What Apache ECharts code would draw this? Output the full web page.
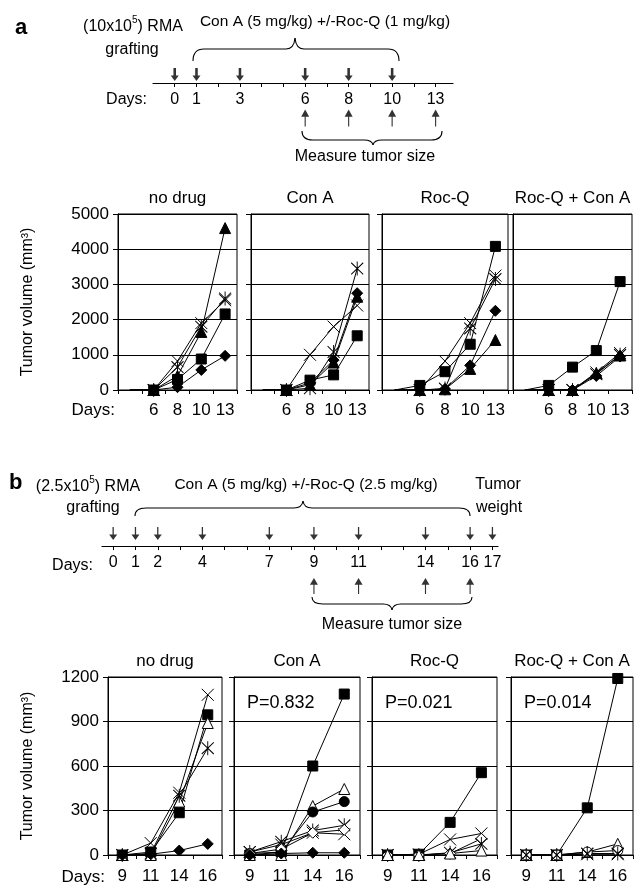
<!DOCTYPE html>
<html>
<head>
<meta charset="utf-8">
<script src="https://cdn.jsdelivr.net/npm/echarts@6/dist/echarts.min.js"></script>
<style>
  html, body { margin: 0; padding: 0; background: #fff; }
  #chart { width: 635px; height: 887px; }
</style>
</head>
<body>
<div id="chart"></div>
<script>
// ---------- data: panel a (first slot is the unlabeled start at 0) ----------
const aDays = ['', '6', '8', '10', '13'];
const aNoTri = [0, 0, 400, 1650, 4600];
const aNoX = [0, 0, 820, 1900, 2550];
const aNoAst = [0, 0, 650, 1800, 2600];
const aNoSq = [0, 0, 300, 880, 2160];
const aNoDia = [0, 0, 80, 570, 970];

const aConX = [0, 0, 1000, 1800, 2400];
const aConAst = [0, 0, 50, 1080, 3450];
const aConDia = [0, 0, 200, 850, 2750];
const aConTri = [0, 0, 150, 780, 2650];
const aConSq = [0, 0, 280, 430, 1540];

const aRocSq = [0, 130, 520, 1300, 4080];
const aRocX = [0, 0, 820, 1900, 3250];
const aRocAst = [0, 0, 40, 1750, 3150];
const aRocDia = [0, 0, 30, 700, 2250];
const aRocTri = [0, 0, 20, 600, 1420];

const aBothSq = [0, 130, 650, 1120, 3080];
const aBothX = [0, 0, 0, 500, 1050];
const aBothAst = [0, 0, 0, 450, 1000];
const aBothDia = [0, 0, 0, 400, 950];
const aBothTri = [0, 0, 0, 480, 980];

// ---------- data: panel b ----------
const bDays = ['9', '11', '14', '16'];
const bNoX = [0, 80, 420, 1080];
const bNoSq = [0, 20, 285, 945];
const bNoTriO = [0, 0, 360, 890];
const bNoAst = [0, 10, 400, 720];
const bNoDia = [0, 5, 30, 75];

const bConSq = [0, 20, 600, 1085];
const bConTriO = [0, 0, 330, 445];
const bConCir = [10, 20, 290, 360];
const bConAst = [20, 90, 165, 200];
const bConX = [20, 70, 150, 140];
const bConDiaO = [10, 40, 150, 170];
const bConDia = [0, 10, 15, 15];

const bRocSq = [0, 5, 220, 555];
const bRocX = [0, 5, 105, 145];
const bRocDiaO = [0, 0, 10, 110];
const bRocAst = [0, 0, 15, 75];
const bRocTriO = [0, 0, 10, 30];

const bBothSq = [0, 0, 318, 1190];
const bBothTriO = [0, 0, 20, 75];
const bBothCirO = [0, 0, 20, 30];
const bBothAst = [0, 0, 10, 10];
const bBothX = [0, 0, 5, 5];

const panelTitles = ['no drug', 'Con A', 'Roc-Q', 'Roc-Q + Con A'];
const pLabels = ['', 'P=0.832', 'P=0.021', 'P=0.014'];

// ---------- timelines (slot index -> label) ----------
const aSlotLabels = ['0', '1', '', '3', '', '', '6', '', '8', '', '10', '', '13'];
const aDoseSlots = [0, 1, 3, 6, 8, 10];
const aMeasureSlots = [6, 8, 10, 12];
const bSlotLabels = ['0', '1', '2', '', '4', '', '', '7', '', '9', '', '11', '', '', '14', '', '16', '17'];
const bDoseSlots = [0, 1, 2, 4, 7, 9, 11, 14, 16, 17];
const bMeasureSlots = [9, 11, 14, 16];

// ---------- markers ----------
const MK = {
  sq:   { symbol: 'rect', size: 10, fill: '#000' },
  tri:  { symbol: 'triangle', size: 11, fill: '#000' },
  dia:  { symbol: 'diamond', size: 11, fill: '#000' },
  cir:  { symbol: 'circle', size: 10, fill: '#000' },
  triO: { symbol: 'triangle', size: 11, fill: '#fff' },
  cirO: { symbol: 'circle', size: 10, fill: '#fff' },
  diaO: { symbol: 'diamond', size: 11, fill: '#fff' },
  x:    { symbol: 'path://M0,0L10,10M10,0L0,10', size: 12, fill: 'transparent' },
  ast:  { symbol: 'path://M0,1L10,11M10,1L0,11M5,0L5,12', size: [12, 14], fill: 'transparent' }
};

const panelsA = [
  [[aNoTri, 'tri'], [aNoX, 'x'], [aNoAst, 'ast'], [aNoSq, 'sq'], [aNoDia, 'dia']],
  [[aConX, 'x'], [aConAst, 'ast'], [aConDia, 'dia'], [aConTri, 'tri'], [aConSq, 'sq']],
  [[aRocSq, 'sq'], [aRocX, 'x'], [aRocAst, 'ast'], [aRocDia, 'dia'], [aRocTri, 'tri']],
  [[aBothSq, 'sq'], [aBothX, 'x'], [aBothAst, 'ast'], [aBothDia, 'dia'], [aBothTri, 'tri']]
];
const panelsB = [
  [[bNoX, 'x'], [bNoSq, 'sq'], [bNoTriO, 'triO'], [bNoAst, 'ast'], [bNoDia, 'dia']],
  [[bConSq, 'sq'], [bConTriO, 'triO'], [bConCir, 'cir'], [bConAst, 'ast'], [bConX, 'x'], [bConDiaO, 'diaO'], [bConDia, 'dia']],
  [[bRocSq, 'sq'], [bRocX, 'x'], [bRocDiaO, 'diaO'], [bRocAst, 'ast'], [bRocTriO, 'triO']],
  [[bBothSq, 'sq'], [bBothTriO, 'triO'], [bBothCirO, 'cirO'], [bBothAst, 'ast'], [bBothX, 'x']]
];

// ---------- layout ----------
const FONT = 'Liberation Sans, Arial, sans-serif';
const rowA = { top: 214, height: 176, boxes: [[118, 119], [251, 118], [382, 126], [513, 119]] };
const rowB = { top: 677, height: 178, boxes: [[108, 114], [234, 126], [372, 125], [511, 122]] };

const grid = [], xAxis = [], yAxis = [], series = [], graphic = [];

function addRow(row, cats, max, interval, panels, hideLead, labelMargin, nameGap) {
  row.boxes.forEach(function (b, i) {
    const idx = grid.length;
    grid.push({ left: b[0], width: b[1], top: row.top, height: row.height,
      show: true, borderColor: '#000', borderWidth: 1, backgroundColor: 'transparent' });
    xAxis.push({ type: 'category', gridIndex: idx, data: cats, boundaryGap: true,
      axisLine: { lineStyle: { color: '#000', width: 1 } },
      axisTick: { show: true, length: 4, lineStyle: { color: '#000' } },
      axisLabel: { interval: 0, color: '#000', fontSize: 17, fontFamily: FONT, margin: labelMargin } });
    yAxis.push({ type: 'value', gridIndex: idx, min: 0, max: max, interval: interval,
      axisLine: { show: true, lineStyle: { color: '#000', width: 1 } },
      axisTick: { show: true, length: 5, lineStyle: { color: '#000' } },
      splitLine: { show: true, lineStyle: { color: '#000', width: 1 } },
      axisLabel: { show: i === 0, color: '#000', fontSize: 17, fontFamily: FONT, margin: 9,
        formatter: function (v) { return String(v); } },
      name: i === 0 ? 'Tumor volume (mm³)' : '', nameLocation: 'middle', nameGap: nameGap,
      nameTextStyle: { color: '#000', fontSize: 16, fontFamily: FONT } });
    panels[i].forEach(function (s) {
      const m = MK[s[1]];
      const data = s[0].map(function (v, k) {
        return (hideLead && k === 0) ? { value: v, symbol: 'none' } : v;
      });
      series.push({ type: 'line', xAxisIndex: idx, yAxisIndex: idx, data: data,
        symbol: m.symbol, symbolSize: m.size, showSymbol: true, showAllSymbol: true,
        lineStyle: { color: '#000', width: 1 },
        itemStyle: { color: m.fill, borderColor: '#000', borderWidth: 1 },
        emphasis: { disabled: true }, clip: false });
    });
    graphic.push({ type: 'text', style: { text: panelTitles[i], x: b[0] + b[1] / 2, y: row.top - 16,
      textAlign: 'center', textVerticalAlign: 'middle', align: 'center', verticalAlign: 'middle',
      font: '17px ' + FONT, fill: '#000' } });
  });
}

addRow(rowA, aDays, 5000, 1000, panelsA, true, 12, 82);
addRow(rowB, bDays, 1200, 300, panelsB, false, 13, 72);

// P values in row b
rowB.boxes.forEach(function (b, i) {
  if (!pLabels[i]) return;
  graphic.push({ type: 'text', style: { text: pLabels[i], x: b[0] + 13, y: 703,
    textAlign: 'left', textVerticalAlign: 'middle', align: 'left', verticalAlign: 'middle',
    font: '18px ' + FONT, fill: '#000' } });
});

// timelines as axes
function addTimeline(left, width, axisY, min, max, labels, dose, measure, doseY, measY, doseSize, measSize, shaft) {
  const idx = grid.length;
  grid.push({ left: left, width: width, top: axisY - 20, height: 20, show: false });
  const ticks = labels.map(function (l, k) { return k; });
  const labelSlots = ticks.filter(function (k) { return labels[k] !== ''; });
  xAxis.push({ type: 'value', gridIndex: idx, min: min, max: max,
    axisLine: { show: true, lineStyle: { color: '#000', width: 1.2 } },
    axisTick: { show: true, length: 4, customValues: ticks, lineStyle: { color: '#000' } },
    axisLabel: { customValues: labelSlots, color: '#000', fontSize: 16, fontFamily: FONT, margin: 9,
      formatter: function (v) { return labels[Math.round(v)]; } },
    splitLine: { show: false } });
  yAxis.push({ type: 'value', gridIndex: idx, min: 0, max: 1, show: false });
  const a = 5 - shaft, c = 5 + shaft;
  const down = 'path://M' + a + ',0L' + c + ',0L' + c + ',8L10,8L5,14L0,8L' + a + ',8Z';
  const up = 'path://M5,0L10,6L5.7,6L5.7,14L4.3,14L4.3,6L0,6Z';
  series.push({ type: 'scatter', xAxisIndex: idx, yAxisIndex: idx, clip: false,
    data: dose.map(function (d) { return [d, doseY]; }),
    symbol: down, symbolSize: doseSize, itemStyle: { color: '#000' }, emphasis: { disabled: true } });
  series.push({ type: 'scatter', xAxisIndex: idx, yAxisIndex: idx, clip: false,
    data: measure.map(function (d) { return [d, measY]; }),
    symbol: up, symbolSize: measSize, itemStyle: { color: '#000' }, emphasis: { disabled: true } });
}
addTimeline(153, 300, 83, -1, 12.8, aSlotLabels, aDoseSlots, aMeasureSlots, 0.42, -1.75, [8, 13], [8, 17], 1.6);
addTimeline(102, 396, 546, -0.5, 17.25, bSlotLabels, bDoseSlots, bMeasureSlots, 0.62, -2.0, [8, 13], [8, 16], 0.8);

function txt(s, x, y, align, font, rich) {
  const st = { text: s, x: x, y: y, textAlign: align, textVerticalAlign: 'middle',
    align: align, verticalAlign: 'middle', font: font || ('16px ' + FONT), fill: '#000' };
  if (rich) st.rich = rich;
  graphic.push({ type: 'text', style: st });
}
// curly brace built from quadratic curves and lines
function brace(x1, x2, yEnd, yLine, xPeak, yPeak) {
  const r = 11, r2 = 9;
  const st = { stroke: '#000', lineWidth: 1.1, fill: null };
  const parts = [
    { type: 'bezierCurve', shape: { x1: x1, y1: yEnd, x2: x1 + r, y2: yLine, cpx1: x1, cpy1: yLine } },
    { type: 'line', shape: { x1: x1 + r, y1: yLine, x2: xPeak - r2, y2: yLine } },
    { type: 'bezierCurve', shape: { x1: xPeak - r2, y1: yLine, x2: xPeak, y2: yPeak, cpx1: xPeak - 1, cpy1: yLine } },
    { type: 'bezierCurve', shape: { x1: xPeak, y1: yPeak, x2: xPeak + r2, y2: yLine, cpx1: xPeak + 1, cpy1: yLine } },
    { type: 'line', shape: { x1: xPeak + r2, y1: yLine, x2: x2 - r, y2: yLine } },
    { type: 'bezierCurve', shape: { x1: x2 - r, y1: yLine, x2: x2, y2: yEnd, cpx1: x2, cpy1: yLine } }
  ];
  parts.forEach(function (p) { p.style = st; graphic.push(p); });
}
const supRich = {
  n: { fontSize: 16, fontFamily: FONT, color: '#000', verticalAlign: 'bottom', lineHeight: 20 },
  s: { fontSize: 10, fontFamily: FONT, color: '#000', verticalAlign: 'top', lineHeight: 20 }
};

// panel a schematic
txt('a', 15, 28, 'left', 'bold 22px ' + FONT);
txt('{n|(10x10}{s|5}{n|) RMA}', 133, 25, 'center', null, supRich);
txt('grafting', 132, 50, 'center');
txt('Con A (5 mg/kg) +/-Roc-Q (1 mg/kg)', 325, 22, 'center', '15.5px ' + FONT);
brace(193, 399, 61, 49, 295, 38);
txt('Days:', 147, 100, 'right');
brace(302, 442, 131, 140, 373, 145);
txt('Measure tumor size', 365, 157, 'center');

// panel b schematic
txt('b', 9, 483, 'left', 'bold 22px ' + FONT);
txt('{n|(2.5x10}{s|5}{n|) RMA}', 88, 485, 'center', null, supRich);
txt('grafting', 93, 508, 'center');
txt('Con A (5 mg/kg) +/-Roc-Q (2.5 mg/kg)', 306, 485, 'center', '15.5px ' + FONT);
txt('Tumor', 498, 485, 'center');
txt('weight', 499, 508, 'center');
brace(135, 470, 516, 508, 303, 501);
txt('Days:', 93, 566, 'right');
brace(312, 472, 597, 604, 392, 610);
txt('Measure tumor size', 392, 625, 'center');

// Days: labels next to x axes
txt('Days:', 115, 410, 'right', '17px ' + FONT);
txt('Days:', 105, 877, 'right', '17px ' + FONT);

const chart = echarts.init(document.getElementById('chart'), null, { renderer: 'canvas' });
chart.setOption({
  animation: false,
  backgroundColor: '#fff',
  textStyle: { fontFamily: FONT },
  grid: grid,
  xAxis: xAxis,
  yAxis: yAxis,
  series: series,
  graphic: graphic
});
</script>
</body>
</html>
